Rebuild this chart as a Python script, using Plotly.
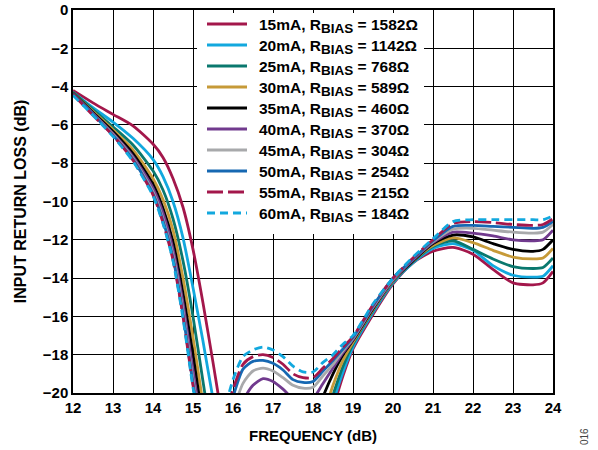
import plotly.graph_objects as go

# Frequency sample points (axis labelled "FREQUENCY (dB)" as on the datasheet)
freq = [12, 12.5, 13, 13.5, 14, 14.25, 14.5, 14.75, 15, 15.25, 15.5, 15.75,
        16, 16.25, 16.5, 16.75, 17, 17.25, 17.5, 17.75, 18, 18.25, 18.5, 18.75,
        19, 19.5, 20, 20.5, 21, 21.5, 22, 22.5, 23, 23.5, 23.75, 24]

# Input return loss (dB) per bias current; values below -20 dB fall outside the axis
rl_15ma = [-4.2, -4.85, -5.45, -6.05, -7.0, -7.7, -8.8, -10.3, -12.5, -15.3, -18.4, -21.5,
           -23.5, -24.0, -24.0, -24.0, -24.0, -24.0, -24.0, -24.0, -23.5, -22.5, -20.8, -19.1,
           -17.7, -15.9, -14.3, -13.2, -12.6, -12.4, -12.75, -13.55, -14.25, -14.35, -14.25, -13.65]
rl_20ma = [-4.3, -5.1, -5.85, -6.7, -7.8, -8.7, -10.0, -11.9, -14.5, -17.3, -20.3, -23.0,
           -24.0, -24.0, -24.0, -24.0, -24.0, -24.0, -24.0, -24.0, -23.5, -22.3, -20.5, -18.9,
           -17.6, -15.8, -14.25, -13.2, -12.45, -12.2, -12.55, -13.35, -13.85, -13.95, -13.9, -13.35]
rl_25ma = [-4.3, -5.2, -6.1, -7.05, -8.4, -9.4, -10.9, -13.1, -16.0, -19.4, -22.5, -24.0,
           -24.0, -24.0, -24.0, -24.0, -24.0, -24.0, -24.0, -24.0, -23.0, -21.8, -20.1, -18.6,
           -17.45, -15.7, -14.2, -13.15, -12.35, -12.05, -12.5, -13.0, -13.4, -13.5, -13.45, -12.95]
rl_30ma = [-4.35, -5.3, -6.25, -7.3, -8.8, -9.9, -11.5, -14.0, -17.1, -20.5, -23.0, -24.0,
           -24.0, -24.0, -24.0, -24.0, -24.0, -24.0, -24.0, -24.0, -22.5, -21.2, -19.6, -18.3,
           -17.35, -15.65, -14.15, -13.1, -12.3, -11.9, -12.15, -12.55, -12.9, -13.0, -12.95, -12.45]
rl_35ma = [-4.35, -5.35, -6.35, -7.5, -9.1, -10.35, -12.1, -14.8, -18.0, -21.3, -23.0, -23.5,
           -23.0, -22.5, -22.0, -21.8, -22.0, -22.3, -22.6, -22.6, -21.7, -20.2, -19.0, -18.0,
           -17.25, -15.6, -14.1, -13.1, -12.2, -11.75, -11.85, -12.2, -12.5, -12.6, -12.5, -12.0]
rl_40ma = [-4.4, -5.4, -6.45, -7.65, -9.3, -10.6, -12.5, -15.3, -18.8, -21.8, -23.0, -22.5,
           -21.6, -20.4, -19.6, -19.25, -19.4, -19.8, -20.3, -20.6, -20.3, -19.5, -18.7, -17.9,
           -17.2, -15.55, -14.1, -13.05, -12.15, -11.6, -11.65, -11.8, -12.0, -12.05, -12.0, -11.5]
rl_45ma = [-4.4, -5.45, -6.5, -7.75, -9.5, -10.9, -12.8, -15.7, -19.3, -22.1, -23.0, -22.2,
           -20.9, -19.5, -18.85, -18.7, -18.85, -19.2, -19.6, -19.75, -19.7, -19.1, -18.5, -17.8,
           -17.15, -15.5, -14.05, -13.0, -12.1, -11.45, -11.4, -11.5, -11.6, -11.65, -11.6, -11.2]
rl_50ma = [-4.4, -5.45, -6.55, -7.8, -9.6, -11.0, -12.95, -15.9, -19.5, -22.3, -23.0, -21.8,
           -20.2, -18.75, -18.35, -18.3, -18.45, -18.8, -19.3, -19.45, -19.4, -18.85, -18.3, -17.7,
           -17.1, -15.45, -14.0, -13.0, -12.05, -11.3, -11.25, -11.3, -11.35, -11.4, -11.35, -11.05]
rl_55ma = [-4.4, -5.5, -6.55, -7.85, -9.65, -11.1, -13.05, -16.0, -19.6, -22.4, -23.0, -21.5,
           -19.8, -18.5, -18.1, -18.0, -18.15, -18.5, -19.0, -19.2, -19.2, -18.7, -18.2, -17.6,
           -17.05, -15.4, -14.0, -12.95, -12.0, -11.15, -11.05, -11.1, -11.2, -11.25, -11.2, -10.9]
rl_60ma = [-4.45, -5.5, -6.6, -7.9, -9.7, -11.15, -13.1, -16.1, -19.7, -22.5, -23.0, -21.2,
           -19.3, -18.1, -17.75, -17.6, -17.75, -18.1, -18.6, -18.9, -18.9, -18.4, -18.0, -17.45,
           -17.0, -15.35, -14.0, -12.9, -11.95, -11.05, -10.95, -10.95, -10.95, -10.95, -10.95, -10.75]

labels = ["15mA", "20mA", "25mA", "30mA", "35mA", "40mA", "45mA", "50mA", "55mA", "60mA"]
rbias = ["1582", "1142", "768", "589", "460", "370", "304", "254", "215", "184"]
series = [rl_15ma, rl_20ma, rl_25ma, rl_30ma, rl_35ma, rl_40ma, rl_45ma, rl_50ma, rl_55ma, rl_60ma]

colors = ["#A3174B", "#12A8DE", "#0A786E", "#C69A38", "#000000",
          "#713A8E", "#A8A9AB", "#1668B2", "#A3174B", "#12A8DE"]
dashes = ["solid"] * 8 + ["16px,5px", "8px,5px"]

font_family = "Arial, Liberation Sans, sans-serif"

fig = go.Figure()
for lab, rb, ys, col, dsh in zip(labels, rbias, series, colors, dashes):
    fig.add_trace(go.Scatter(
        x=freq, y=ys, mode="lines", showlegend=False,
        name=f"{lab}, RBIAS = {rb}Ω",
        line=dict(color=col, width=2.8, dash=dsh, shape="spline", smoothing=0.7),
    ))

# Key box: white panel over the grid, with a line sample and label per trace
PLOT_L, PLOT_W, PLOT_T, PLOT_H = 73, 480, 10, 383


def px_x(p):
    return (p - PLOT_L) / PLOT_W


def px_y(p):
    return (PLOT_T + PLOT_H - p) / PLOT_H


fig.add_shape(type="rect", xref="paper", yref="paper",
              x0=px_x(197), x1=px_x(424), y0=px_y(234), y1=px_y(13),
              fillcolor="white", line=dict(width=0), layer="above")

for i, (lab, rb, col, dsh) in enumerate(zip(labels, rbias, colors, dashes)):
    yc = 24 + 21 * i
    fig.add_shape(type="line", xref="paper", yref="paper",
                  x0=px_x(207), x1=px_x(247), y0=px_y(yc), y1=px_y(yc),
                  line=dict(color=col, width=3, dash=dsh), layer="above")
    fig.add_annotation(
        xref="paper", yref="paper", x=px_x(257), y=px_y(yc),
        xanchor="left", yanchor="middle", yshift=-2, showarrow=False,
        text=f"<b>{lab}, R<sub><span style='font-size:13.5px'>BIAS</span></sub> = {rb}Ω</b>",
        font=dict(family=font_family, size=15.5, color="black"),
    )

fig.update_xaxes(
    range=[12, 24], dtick=1, showgrid=True, gridcolor="black", gridwidth=1,
    showline=True, linecolor="black", linewidth=1.5, mirror=True, ticks="",
    zeroline=False, automargin=False,
    tickfont=dict(family=font_family, size=15, color="black", weight="bold"),
    title=dict(text="<b>FREQUENCY (dB)</b>", standoff=16,
               font=dict(family=font_family, size=15, color="black")),
)
fig.update_yaxes(
    range=[-20, 0], dtick=2, showgrid=True, gridcolor="black", gridwidth=1,
    showline=True, linecolor="black", linewidth=1.5, mirror=True, ticks="",
    zeroline=False, automargin=False,
    tickfont=dict(family=font_family, size=15, color="black", weight="bold"),
    title=dict(text="<b>INPUT RETURN LOSS (dB)</b>", standoff=12,
               font=dict(family=font_family, size=16, color="black")),
)

fig.add_annotation(
    text="016", xref="paper", yref="paper", x=px_x(585), y=px_y(437),
    xanchor="center", yanchor="middle", textangle=-90, showarrow=False,
    font=dict(family=font_family, size=10, color="#444444"),
)

fig.update_layout(
    width=598, height=450,
    margin=dict(l=73, r=45, t=10, b=57),
    plot_bgcolor="white", paper_bgcolor="white",
    showlegend=False,
)

fig.write_html("out.html")
